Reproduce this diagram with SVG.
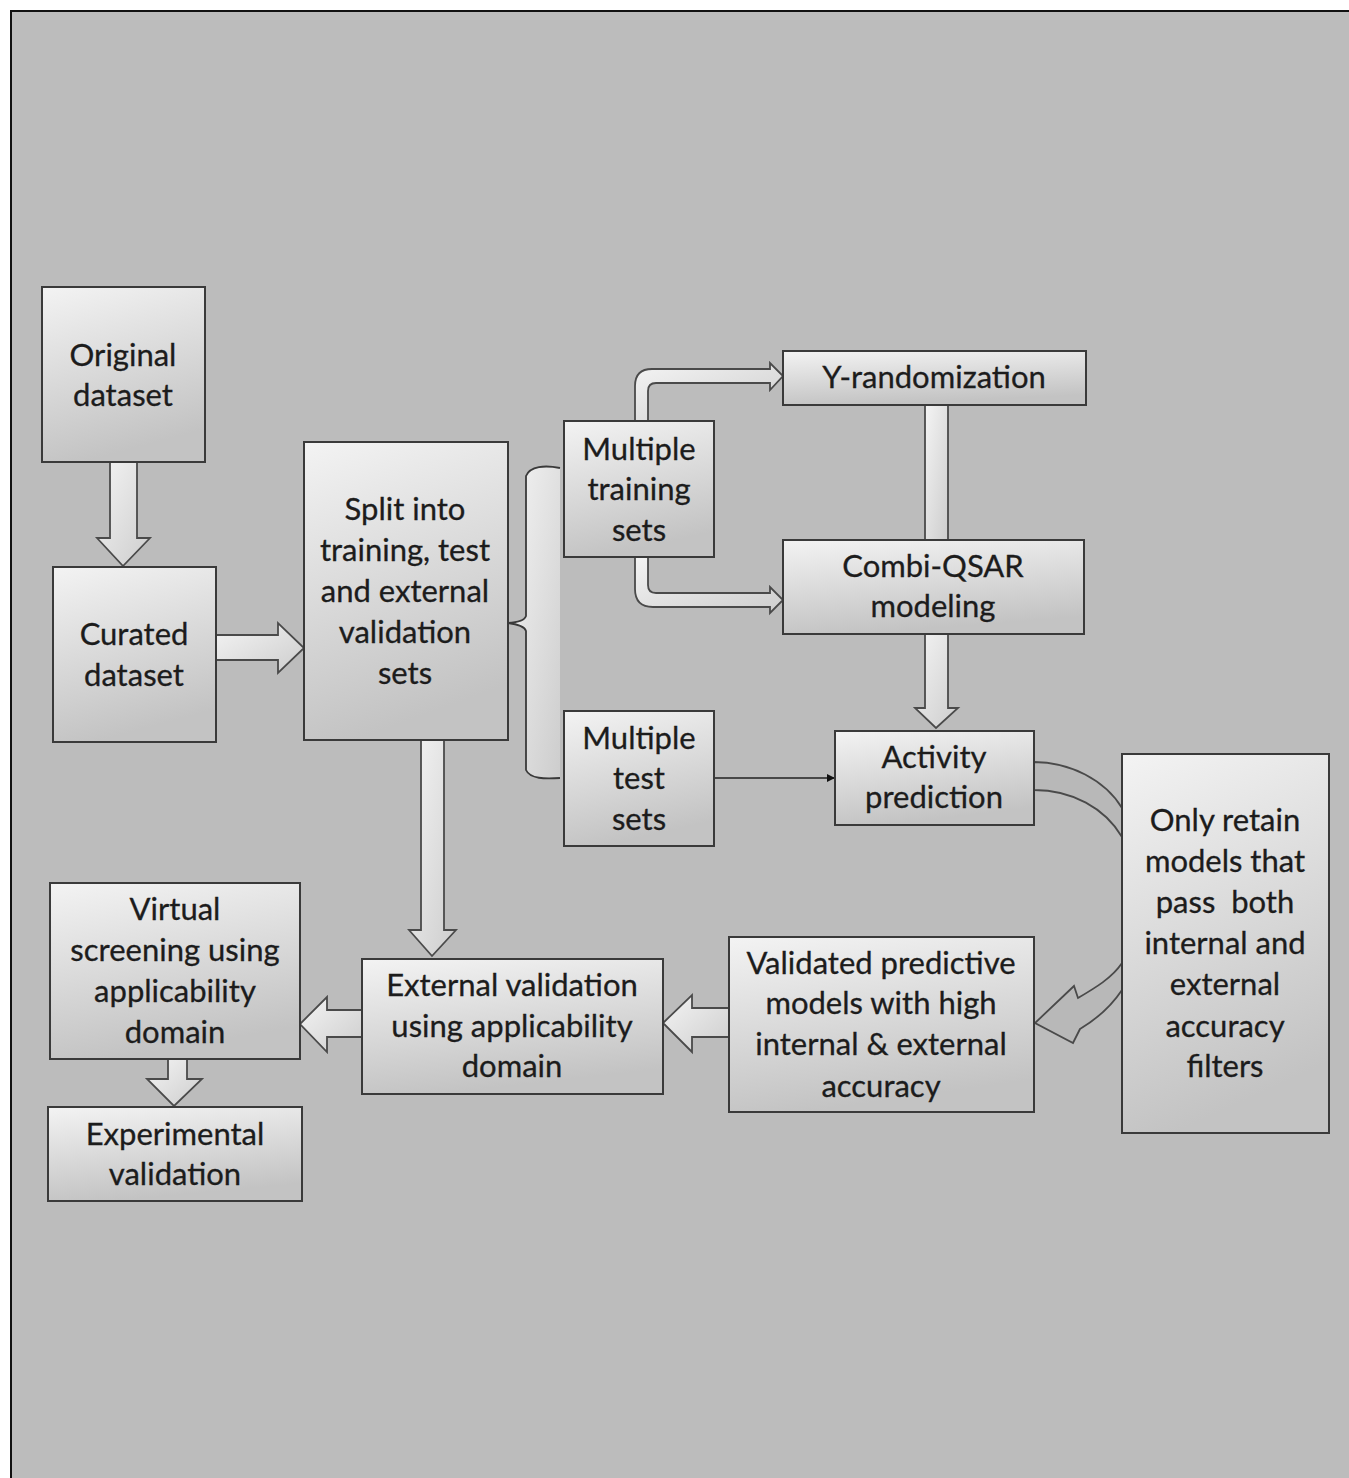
<svg xmlns="http://www.w3.org/2000/svg" width="1349" height="1478" viewBox="0 0 1349 1478">
<defs>
<linearGradient id="boxg" x1="0" y1="0" x2="0.25" y2="1">
<stop offset="0" stop-color="#f3f3f3"/>
<stop offset="1" stop-color="#c3c3c3"/>
</linearGradient>
<linearGradient id="arrg" x1="0" y1="0" x2="1" y2="1">
<stop offset="0" stop-color="#f4f4f4"/>
<stop offset="1" stop-color="#cdcdcd"/>
</linearGradient>
<marker id="tip" markerWidth="8" markerHeight="8" refX="7" refY="4" orient="auto" markerUnits="userSpaceOnUse">
<path d="M0,0 L8,4 L0,8 Z" fill="#111"/>
</marker>
<style>
.box{fill:url(#boxg);stroke:#3a3a3a;stroke-width:2}
.arr{fill:url(#arrg);stroke:#4a4a4a;stroke-width:1.8;stroke-linejoin:miter}
.t{font-family:Lato,"Open Sans","Liberation Sans",sans-serif;font-size:31px;fill:#1c1c1c;text-anchor:middle;stroke:#1c1c1c;stroke-width:0.3}
</style>
</defs>
<rect x="0" y="0" width="1349" height="1478" fill="#ffffff"/>
<rect x="11" y="11" width="1340" height="1470" fill="#bcbcbc" stroke="#111" stroke-width="2"/>

<g id="connectors">
<path class="arr" d="M110,462 L137,462 L137,538 L150,538 L123,566 L97,538 L110,538 Z"/>
<path class="arr" d="M216,635 L278,635 L278,623 L304,648 L278,673 L278,660 L216,660 Z"/>
<path class="arr" d="M421,740 L444,740 L444,930 L456,930 L432,956 L409,930 L421,930 Z"/>
<path d="M560,468 C545,465 530,466 526,476 L526,616 Q524,622 508,623 Q524,625 526,631 L526,770 C530,779 545,779 560,778 Z" fill="url(#arrg)" stroke="none"/>
<path d="M560,468 C545,465 530,466 526,476 L526,616 Q524,622 508,623 Q524,625 526,631 L526,770 C530,779 545,779 560,778" fill="none" stroke="#3a3a3a" stroke-width="1.8"/>
<path class="arr" d="M635,421 L635,386 Q635,369 652,369 L770,369 L770,363 L783,376 L770,390 L770,383 L656,383 Q648,383 648,391 L648,421 Z"/>
<path class="arr" d="M635,557 L635,589 Q635,607 653,607 L770,607 L770,613 L783,600 L770,587 L770,593 L656,593 Q648,593 648,585 L648,557 Z"/>
<rect class="arr" x="925" y="405" width="23" height="135"/>
<path class="arr" d="M925,634 L948,634 L948,708 L958,708 L936,728 L915,708 L925,708 Z"/>
<line x1="714" y1="778" x2="834" y2="778" stroke="#222" stroke-width="1.5" marker-end="url(#tip)"/>
<path d="M1034,762 C1070,762 1105,780 1122,808 C1135,830 1142,868 1142,900 C1142,940 1134,968 1122,990 C1110,1008 1095,1020 1080,1029 L1073,1043 L1035,1023 L1074,986 L1078,998 C1095,988 1112,978 1122,963 C1128,945 1131,920 1131,900 C1131,870 1129,852 1122,837 C1105,808 1072,790 1034,790 Z" fill="#b8b8b8" stroke="#4a4a4a" stroke-width="1.8"/>
<path class="arr" d="M729,1008 L692,1008 L692,995 L663,1023 L692,1052 L692,1037 L729,1037 Z"/>
<path class="arr" d="M362,1010 L327,1010 L327,997 L300,1024 L327,1052 L327,1037 L362,1037 Z"/>
<path class="arr" d="M168,1059 L187,1059 L187,1079 L202,1079 L174,1106 L147,1079 L168,1079 Z"/>
</g>

<g id="n-original">
<rect class="box" x="42" y="287" width="163" height="175"/>
<text class="t" x="123" y="366">Original</text>
<text class="t" x="123" y="406">dataset</text>
</g>
<g id="n-curated">
<rect class="box" x="53" y="567" width="163" height="175"/>
<text class="t" x="134" y="645">Curated</text>
<text class="t" x="134" y="686">dataset</text>
</g>
<g id="n-split">
<rect class="box" x="304" y="442" width="204" height="298"/>
<text class="t" x="405" y="520">Split into</text>
<text class="t" x="405" y="561">training, test</text>
<text class="t" x="405" y="602">and external</text>
<text class="t" x="405" y="643">validation</text>
<text class="t" x="405" y="684">sets</text>
</g>
<g id="n-training">
<rect class="box" x="564" y="421" width="150" height="136"/>
<text class="t" x="639" y="460">Multiple</text>
<text class="t" x="639" y="500">training</text>
<text class="t" x="639" y="541">sets</text>
</g>
<g id="n-test">
<rect class="box" x="564" y="711" width="150" height="135"/>
<text class="t" x="639" y="749">Multiple</text>
<text class="t" x="639" y="789">test</text>
<text class="t" x="639" y="830">sets</text>
</g>
<g id="n-yrand">
<rect class="box" x="783" y="351" width="303" height="54"/>
<text class="t" x="934" y="388">Y-randomization</text>
</g>
<g id="n-combi">
<rect class="box" x="783" y="540" width="301" height="94"/>
<text class="t" x="933" y="577">Combi-QSAR</text>
<text class="t" x="933" y="617">modeling</text>
</g>
<g id="n-activity">
<rect class="box" x="835" y="731" width="199" height="94"/>
<text class="t" x="934" y="768">Activity</text>
<text class="t" x="934" y="808">prediction</text>
</g>
<g id="n-retain">
<rect class="box" x="1122" y="754" width="207" height="379"/>
<text class="t" x="1225" y="831">Only retain</text>
<text class="t" x="1225" y="872">models that</text>
<text class="t" x="1225" y="913" style="white-space:pre">pass  both</text>
<text class="t" x="1225" y="954">internal and</text>
<text class="t" x="1225" y="995">external</text>
<text class="t" x="1225" y="1037">accuracy</text>
<text class="t" x="1225" y="1077">filters</text>
</g>
<g id="n-validated">
<rect class="box" x="729" y="937" width="305" height="175"/>
<text class="t" x="881" y="974">Validated predictive</text>
<text class="t" x="881" y="1014">models with high</text>
<text class="t" x="881" y="1055">internal &amp; external</text>
<text class="t" x="881" y="1097">accuracy</text>
</g>
<g id="n-external">
<rect class="box" x="362" y="959" width="301" height="135"/>
<text class="t" x="512" y="996">External validation</text>
<text class="t" x="512" y="1037">using applicability</text>
<text class="t" x="512" y="1077">domain</text>
</g>
<g id="n-virtual">
<rect class="box" x="50" y="883" width="250" height="176"/>
<text class="t" x="175" y="920">Virtual</text>
<text class="t" x="175" y="961">screening using</text>
<text class="t" x="175" y="1002">applicability</text>
<text class="t" x="175" y="1043">domain</text>
</g>
<g id="n-experimental">
<rect class="box" x="48" y="1107" width="254" height="94"/>
<text class="t" x="175" y="1145">Experimental</text>
<text class="t" x="175" y="1185">validation</text>
</g>
</svg>
